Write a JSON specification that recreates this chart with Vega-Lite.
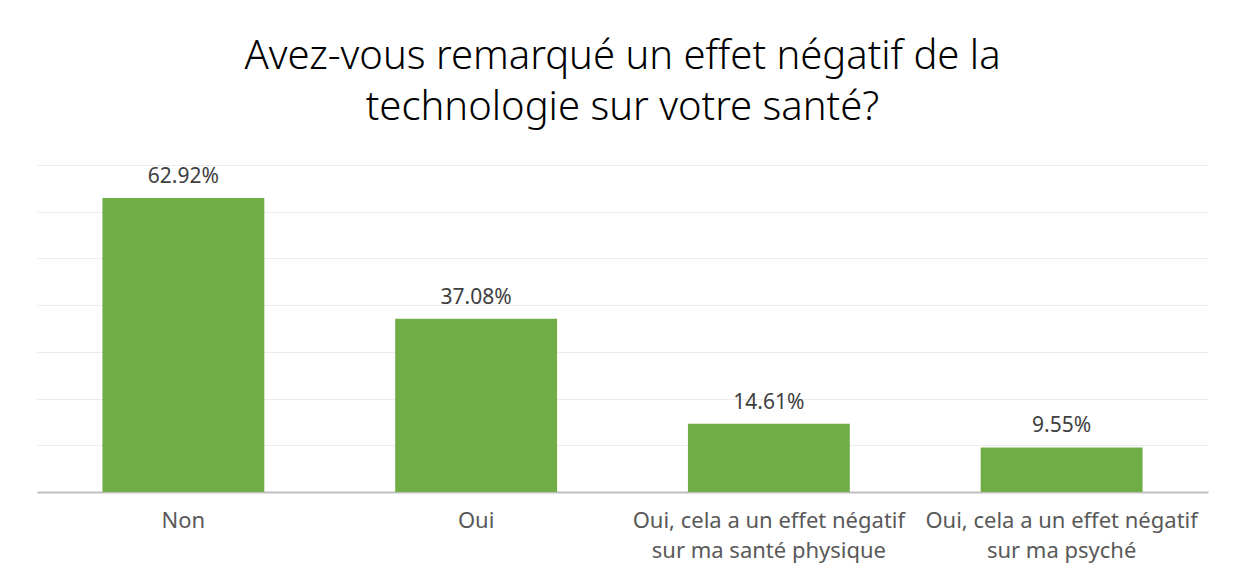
{
  "$schema": "https://vega.github.io/schema/vega-lite/v6.json",
  "width": 1171,
  "height": 327,
  "autosize": {"type": "none"},
  "padding": {"left": 37, "top": 165, "right": 26, "bottom": 86},
  "background": "#ffffff",
  "title": {
    "text": ["Avez-vous remarqué un effet négatif de la", "technologie sur votre santé?"],
    "font": "Noto Sans",
    "fontSize": 40,
    "fontWeight": 300,
    "color": "#000000",
    "lineHeight": 51,
    "anchor": "middle",
    "offset": 37
  },
  "data": {
    "values": [
      {"reponse": "Non", "part": 0.6292},
      {"reponse": "Oui", "part": 0.3708},
      {"reponse": "Oui, cela a un effet négatif sur ma santé physique", "part": 0.1461},
      {"reponse": "Oui, cela a un effet négatif sur ma psyché", "part": 0.0955}
    ]
  },
  "config": {
    "view": {"stroke": null},
    "font": "Noto Sans"
  },
  "encoding": {
    "x": {
      "field": "reponse",
      "type": "nominal",
      "sort": null,
      "scale": {"paddingInner": 0.447, "paddingOuter": 0.2235},
      "axis": {
        "title": null,
        "labelAngle": 0,
        "labelFont": "Noto Sans",
        "labelFontSize": 22,
        "labelColor": "#595959",
        "labelLimit": 400,
        "labelPadding": 18,
        "labelLineHeight": 30,
        "labelExpr": "length(split(datum.label, ' sur ')) > 1 ? [split(datum.label, ' sur ')[0], 'sur ' + split(datum.label, ' sur ')[1]] : datum.label",
        "ticks": false,
        "domainColor": "#bfbfbf",
        "domainWidth": 2,
        "grid": false
      }
    },
    "y": {
      "field": "part",
      "type": "quantitative",
      "scale": {"domain": [0, 0.7], "nice": false},
      "axis": {
        "title": null,
        "labels": false,
        "ticks": false,
        "domain": false,
        "values": [0, 0.1, 0.2, 0.3, 0.4, 0.5, 0.6, 0.7],
        "gridColor": "#ebebeb",
        "gridWidth": 1
      }
    }
  },
  "layer": [
    {"mark": {"type": "bar", "color": "#70ad47"}},
    {
      "mark": {"type": "text", "baseline": "bottom", "dy": -11, "fontSize": 21, "color": "#404040", "font": "Noto Sans"},
      "encoding": {"text": {"field": "part", "type": "quantitative", "format": ".2%"}}
    }
  ]
}
